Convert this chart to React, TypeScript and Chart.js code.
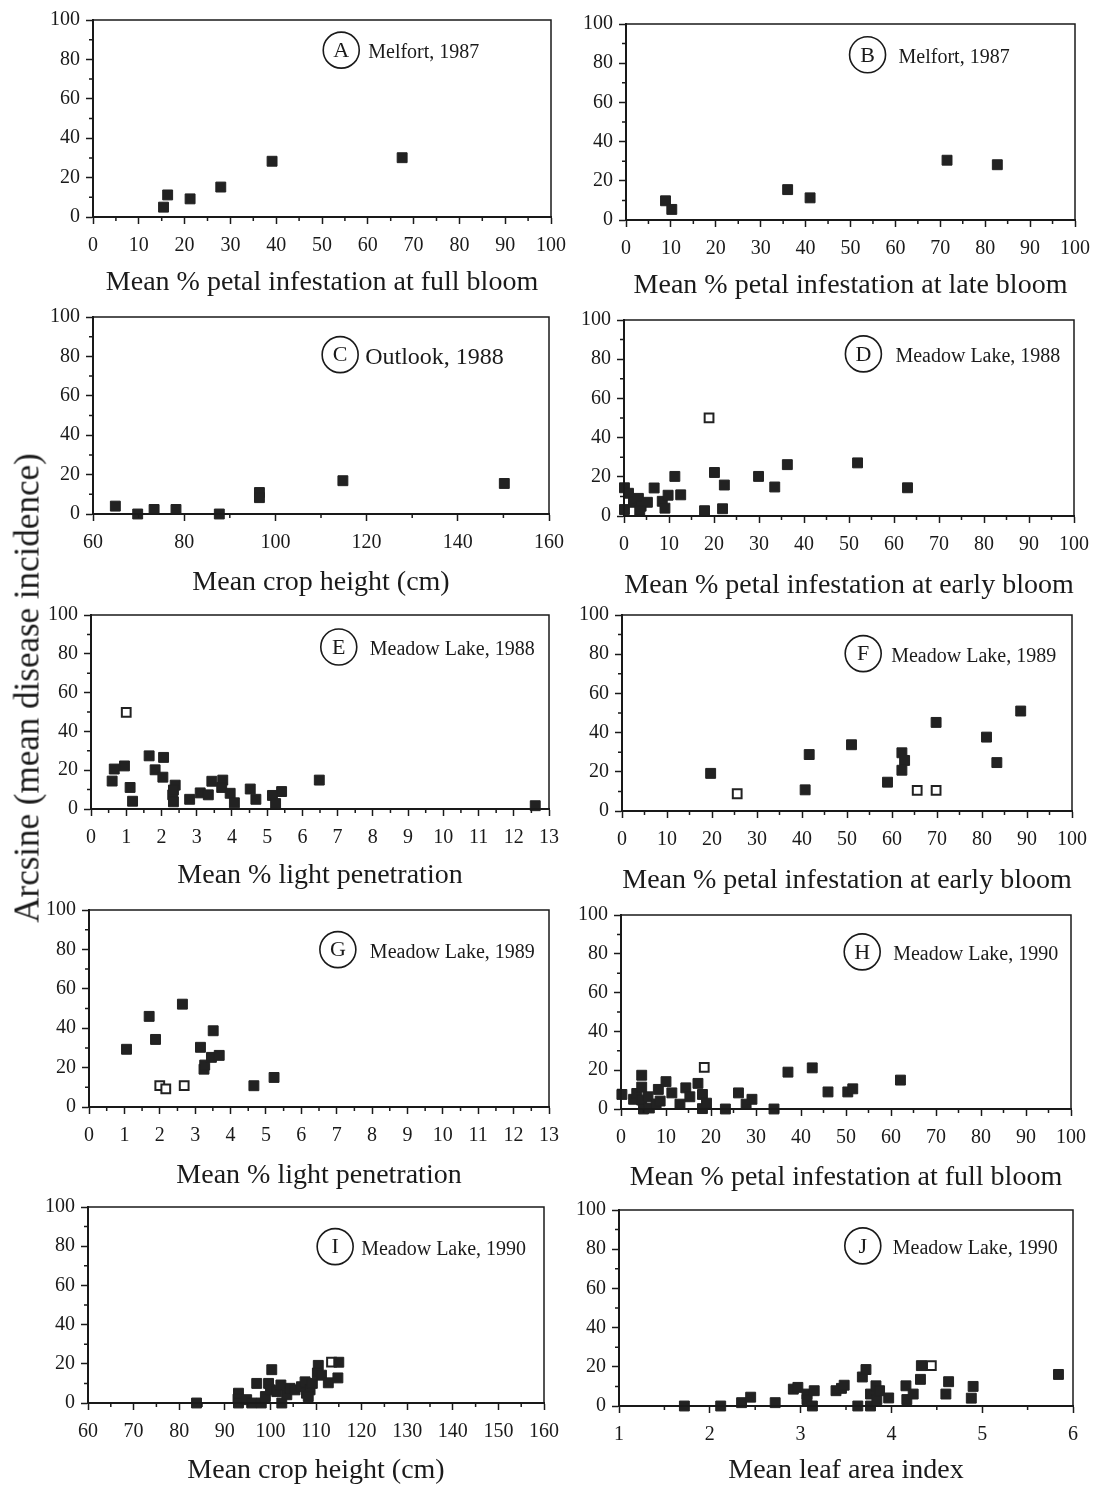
import React, { useEffect, useRef } from 'react';
import { Chart, registerables } from 'chart.js';

Chart.register(...registerables);

const INK = '#1a1a1a';
const FONT = "'Liberation Serif', 'Times New Roman', serif";

// ---------- Data (x = predictor, y = arcsine mean disease incidence) ----------
// A: Melfort 1987, petal infestation at full bloom
const A_x = [15.4, 16.3, 21.2, 27.9, 39.1, 67.5];
const A_y = [5.0, 11.2, 9.2, 15.2, 28.3, 30.1];
// B: Melfort 1987, petal infestation at late bloom
const B_x = [8.8, 10.2, 36.0, 41.0, 71.5, 82.7];
const B_y = [9.8, 5.4, 15.5, 11.3, 30.5, 28.2];
// C: Outlook 1988, crop height
const C_x = [64.9, 69.8, 73.4, 78.2, 87.7, 96.5, 96.5, 114.8, 150.2];
const C_y = [4.0, 0.0, 2.3, 2.3, 0.0, 10.9, 8.3, 16.9, 15.5];
// D: Meadow Lake 1988, petal infestation at early bloom
const D_x = [0.1, 1.0, 0.1, 2.1, 3.2, 3.8, 5.2, 3.5, 6.7, 8.5, 9.1, 9.8, 11.3, 12.6, 17.9, 20.1, 21.9, 22.3, 29.9, 33.5, 36.3, 51.9, 63.0];
const D_y = [14.4, 11.6, 3.3, 7.0, 9.0, 5.0, 7.0, 2.8, 14.3, 7.5, 4.0, 10.6, 20.2, 10.8, 2.7, 22.2, 3.7, 15.8, 20.2, 14.8, 26.2, 27.1, 14.4];
const D_openX = [18.9];
const D_openY = [50.1];
// E: Meadow Lake 1988, light penetration
const E_x = [0.6, 0.66, 0.95, 1.11, 1.18, 1.65, 1.82, 2.06, 2.04, 2.32, 2.39, 2.34, 2.34, 2.8, 3.1, 3.33, 3.43, 3.74, 3.71, 3.95, 4.07, 4.52, 4.68, 5.15, 5.24, 5.41, 6.48, 12.61];
const E_y = [14.4, 20.6, 22.2, 11.1, 4.0, 27.4, 20.2, 26.6, 16.4, 7.3, 12.3, 3.7, 9.8, 5.0, 8.3, 7.3, 14.3, 14.9, 11.1, 8.1, 3.2, 10.3, 5.0, 7.0, 2.8, 9.0, 14.9, 1.7];
const E_openX = [1.0];
const E_openY = [49.8];
// F: Meadow Lake 1989, petal infestation at early bloom
const F_x = [19.7, 40.7, 41.6, 51.0, 59.0, 62.2, 62.8, 62.2, 69.8, 81.0, 83.3, 88.6];
const F_y = [19.2, 10.8, 28.8, 33.8, 14.7, 29.7, 25.8, 20.8, 45.2, 37.7, 24.7, 51.0];
const F_openX = [25.6, 65.6, 69.8];
const F_openY = [8.8, 10.5, 10.5];
// G: Meadow Lake 1989, light penetration
const G_x = [1.06, 1.7, 1.88, 2.64, 3.15, 3.25, 3.27, 3.46, 3.68, 3.51, 4.66, 5.23];
const G_y = [29.3, 46.0, 34.3, 52.2, 30.3, 19.2, 21.3, 25.2, 26.2, 38.7, 10.8, 15.0];
const G_openX = [2.0, 2.17, 2.69];
const G_openY = [10.8, 9.2, 10.8];
// H: Meadow Lake 1990, petal infestation at full bloom
const H_x = [0.2, 2.8, 3.5, 4.6, 4.6, 4.6, 5.0, 6.0, 6.3, 7.8, 8.3, 8.7, 10.0, 11.3, 13.1, 14.4, 15.3, 17.1, 18.1, 18.1, 19.0, 23.2, 26.1, 27.8, 29.1, 34.0, 37.1, 42.5, 46.0, 50.4, 51.5, 62.1];
const H_y = [7.5, 5.0, 8.0, 17.4, 11.3, 4.6, 0.0, 6.3, 0.5, 2.6, 10.1, 4.1, 14.1, 8.3, 2.5, 10.9, 6.3, 13.2, 7.5, 0.2, 3.0, 0.0, 8.3, 2.5, 5.0, 0.0, 19.0, 21.2, 8.8, 8.8, 10.4, 14.9];
const H_openX = [18.5];
const H_openY = [21.5];
// I: Meadow Lake 1990, crop height
const I_x = [83.8, 93.0, 92.9, 93.0, 94.8, 95.9, 97.0, 98.0, 98.9, 99.6, 100.0, 100.3, 101.4, 102.5, 102.3, 103.6, 104.3, 105.4, 106.8, 107.6, 107.9, 108.7, 108.3, 109.2, 110.5, 110.3, 111.2, 112.7, 115.0, 114.8];
const I_y = [0.0, 5.0, 2.0, 0.0, 1.7, 0.0, 10.0, 0.0, 3.3, 10.0, 6.7, 17.0, 5.8, 0.0, 9.2, 4.2, 7.5, 6.7, 8.3, 10.8, 5.0, 6.7, 3.3, 10.0, 19.2, 15.3, 14.2, 10.3, 20.8, 12.8];
const I_openX = [113.4];
const I_openY = [20.8];
// J: Meadow Lake 1990, leaf area index
const J_x = [1.72, 2.12, 2.35, 2.45, 2.72, 2.92, 2.97, 3.07, 3.07, 3.13, 3.15, 3.39, 3.45, 3.48, 3.63, 3.68, 3.72, 3.77, 3.77, 3.83, 3.84, 3.87, 3.97, 4.16, 4.17, 4.24, 4.32, 4.33, 4.63, 4.6, 4.88, 4.9, 5.84];
const J_y = [0.0, 0.0, 1.7, 4.5, 1.7, 8.6, 9.5, 6.1, 3.3, 0.0, 7.8, 7.8, 9.0, 10.6, 0.0, 14.8, 18.6, 0.0, 6.1, 10.3, 3.3, 7.8, 4.1, 10.3, 3.3, 6.1, 13.6, 20.6, 12.4, 6.1, 4.0, 10.0, 16.1];
const J_openX = [4.44];
const J_openY = [20.6];

// Axis ranges: [min, max, minor step, labelled step]
const PCT_AXIS = [0, 100, 5, 10];
const HEIGHT_AXIS_C = [60, 160, 10, 20];
const HEIGHT_AXIS_I = [60, 160, 5, 10];
const LIGHT_AXIS = [0, 13, 0.5, 1];
const LAI_AXIS = [1, 6, 0.5, 1];
const Y_AXIS = [0, 100, 10, 20];

const Y_TITLE = 'Arcsine (mean disease incidence)';

// ---------- Layout (page pixels) ----------
type Panel = {
  letter: string; site: string; xTitle: string;
  xs: number[]; ys: number[]; ox: number[]; oy: number[];
  axis: number[];
  rect: number[]; titleY: number;
  fx: number; fy: number; gap: number; size: number;
};

const PANELS: Panel[] = [
  { letter: 'A', site: 'Melfort, 1987', xTitle: 'Mean % petal infestation at full bloom', xs: A_x, ys: A_y, ox: [], oy: [], axis: PCT_AXIS, rect: [93, 18, 554, 217], titleY: 282, fx: 0.542, fy: 0.153, gap: 27, size: 20 },
  { letter: 'B', site: 'Melfort, 1987', xTitle: 'Mean % petal infestation at late bloom', xs: B_x, ys: B_y, ox: [], oy: [], axis: PCT_AXIS, rect: [626, 22, 1078, 220], titleY: 285, fx: 0.538, fy: 0.157, gap: 31, size: 20 },
  { letter: 'C', site: 'Outlook, 1988', xTitle: 'Mean crop height (cm)', xs: C_x, ys: C_y, ox: [], oy: [], axis: HEIGHT_AXIS_C, rect: [93, 315, 552, 514], titleY: 582, fx: 0.542, fy: 0.191, gap: 25, size: 24 },
  { letter: 'D', site: 'Meadow Lake, 1988', xTitle: 'Mean % petal infestation at early bloom', xs: D_x, ys: D_y, ox: D_openX, oy: D_openY, axis: PCT_AXIS, rect: [624, 318, 1077, 516], titleY: 585, fx: 0.532, fy: 0.173, gap: 32, size: 20 },
  { letter: 'E', site: 'Meadow Lake, 1988', xTitle: 'Mean % light penetration', xs: E_x, ys: E_y, ox: E_openX, oy: E_openY, axis: LIGHT_AXIS, rect: [91, 613, 549, 809], titleY: 875, fx: 0.541, fy: 0.165, gap: 31, size: 20 },
  { letter: 'F', site: 'Meadow Lake, 1989', xTitle: 'Mean % petal infestation at early bloom', xs: F_x, ys: F_y, ox: F_openX, oy: F_openY, axis: PCT_AXIS, rect: [622, 613, 1075, 811], titleY: 880, fx: 0.536, fy: 0.197, gap: 28, size: 20 },
  { letter: 'G', site: 'Meadow Lake, 1989', xTitle: 'Mean % light penetration', xs: G_x, ys: G_y, ox: G_openX, oy: G_openY, axis: LIGHT_AXIS, rect: [89, 908, 549, 1107], titleY: 1175, fx: 0.541, fy: 0.201, gap: 32, size: 20 },
  { letter: 'H', site: 'Meadow Lake, 1990', xTitle: 'Mean % petal infestation at full bloom', xs: H_x, ys: H_y, ox: H_openX, oy: H_openY, axis: PCT_AXIS, rect: [621, 913, 1074, 1109], titleY: 1177, fx: 0.536, fy: 0.19, gap: 31, size: 20 },
  { letter: 'I', site: 'Meadow Lake, 1990', xTitle: 'Mean crop height (cm)', xs: I_x, ys: I_y, ox: I_openX, oy: I_openY, axis: HEIGHT_AXIS_I, rect: [88, 1205, 547, 1403], titleY: 1470, fx: 0.542, fy: 0.202, gap: 26, size: 20 },
  { letter: 'J', site: 'Meadow Lake, 1990', xTitle: 'Mean leaf area index', xs: J_x, ys: J_y, ox: J_openX, oy: J_openY, axis: LAI_AXIS, rect: [619, 1208, 1073, 1406], titleY: 1470, fx: 0.537, fy: 0.183, gap: 30, size: 20 },
];

const YW = 60; // y-axis box width
const PT = 16; // top padding
const PR = 22; // right padding
const TITLE_SIZE = 28;
const TICK_SIZE = 20;

const isMajor = (v: number, step: number) => Math.abs(v / step - Math.round(v / step)) < 1e-6;

const decorPlugin = {
  id: 'decor',
  afterDraw(chart: any, _args: any, opts: any) {
    const { ctx, chartArea: ca } = chart;
    ctx.save();
    ctx.strokeStyle = INK;
    ctx.fillStyle = INK;
    // frame
    ctx.lineWidth = 1.5;
    ctx.strokeRect(ca.left, ca.top, ca.right - ca.left, ca.bottom - ca.top);
    // minor ticks
    const xs = chart.scales.x;
    const ys = chart.scales.y;
    ctx.beginPath();
    xs.ticks.forEach((t: any) => {
      if (t.label === '') {
        const px = xs.getPixelForValue(t.value);
        ctx.moveTo(px, ca.bottom);
        ctx.lineTo(px, ca.bottom + 4);
      }
    });
    ys.ticks.forEach((t: any) => {
      if (t.label === '') {
        const py = ys.getPixelForValue(t.value);
        ctx.moveTo(ca.left, py);
        ctx.lineTo(ca.left - 4, py);
      }
    });
    ctx.stroke();
    // panel label
    const cx = ca.left + opts.fx * (ca.right - ca.left);
    const cy = ca.top + opts.fy * (ca.bottom - ca.top);
    ctx.lineWidth = 1.6;
    ctx.beginPath();
    ctx.arc(cx, cy, 18, 0, Math.PI * 2);
    ctx.stroke();
    ctx.font = `22px ${FONT}`;
    ctx.textAlign = 'center';
    ctx.textBaseline = 'middle';
    ctx.fillText(opts.letter, cx, cy + 1);
    ctx.font = `${opts.size}px ${FONT}`;
    ctx.textAlign = 'left';
    ctx.fillText(opts.site, cx + opts.gap, cy + 3);
    ctx.restore();
  },
};

function PanelChart({ p }: { p: Panel }) {
  const ref = useRef<HTMLCanvasElement>(null);
  const [l, t, r, b] = p.rect;
  const XH = p.titleY - b + Math.round((TITLE_SIZE * 1.2) / 2);
  const W = r - l + YW + PR;
  const H = b - t + PT + XH;

  useEffect(() => {
    const [xmin, xmax, xminor, xmajor] = p.axis;
    const [ymin, ymax, yminor, ymajor] = Y_AXIS;
    const filled = p.xs.map((x, i) => ({ x, y: p.ys[i] }));
    const open = p.ox.map((x, i) => ({ x, y: p.oy[i] }));
    const tickColor = (c: any) => (c.tick && c.tick.label === '' ? 'rgba(0,0,0,0)' : INK);
    const chart = new Chart(ref.current as HTMLCanvasElement, {
      type: 'scatter',
      data: {
        datasets: [
          {
            data: filled,
            pointStyle: 'rect',
            pointRadius: 7,
            backgroundColor: '#222',
            borderColor: '#222',
            borderWidth: 1,
            clip: false,
          },
          {
            data: open,
            pointStyle: 'rect',
            pointRadius: 6.2,
            backgroundColor: '#ffffff',
            borderColor: '#222',
            borderWidth: 2,
            clip: false,
          },
        ],
      } as any,
      plugins: [decorPlugin],
      options: {
        animation: false,
        responsive: false,
        devicePixelRatio: 1,
        layout: { padding: { left: 0, top: PT, right: PR, bottom: 0 } },
        plugins: {
          legend: { display: false },
          tooltip: { enabled: false },
          decor: { letter: p.letter, site: p.site, fx: p.fx, fy: p.fy, gap: p.gap, size: p.size },
        } as any,
        scales: {
          x: {
            type: 'linear',
            min: xmin,
            max: xmax,
            afterFit: (s: any) => { s.height = XH; },
            border: { display: true, color: INK, width: 2 },
            grid: { drawOnChartArea: false, drawTicks: true, tickLength: 7, tickWidth: 1.5, tickColor },
            ticks: {
              stepSize: xminor,
              autoSkip: false,
              maxRotation: 0,
              padding: 10,
              color: INK,
              font: { family: FONT, size: TICK_SIZE },
              callback: (v: any) => (isMajor(Number(v), xmajor) ? String(Math.round(Number(v) * 100) / 100) : ''),
            },
            title: {
              display: true,
              text: p.xTitle,
              color: INK,
              font: { family: FONT, size: TITLE_SIZE },
              padding: 0,
            },
          },
          y: {
            type: 'linear',
            min: ymin,
            max: ymax,
            afterFit: (s: any) => { s.width = YW; },
            border: { display: true, color: INK, width: 2 },
            grid: { drawOnChartArea: false, drawTicks: true, tickLength: 7, tickWidth: 1.5, tickColor },
            ticks: {
              stepSize: yminor,
              autoSkip: false,
              padding: 6,
              color: INK,
              font: { family: FONT, size: TICK_SIZE },
              callback: (v: any) => (isMajor(Number(v), ymajor) ? String(v) : ''),
            },
          },
        },
      } as any,
    });
    return () => chart.destroy();
  }, []);

  return (
    <canvas
      ref={ref}
      width={W}
      height={H}
      style={{ position: 'absolute', left: l - YW, top: t - PT, width: W, height: H }}
    />
  );
}

export default function App() {
  return (
    <div
      style={{
        position: 'fixed',
        left: 0,
        top: 0,
        width: 1101,
        height: 1485,
        overflow: 'hidden',
        background: '#ffffff',
      }}
    >
      {PANELS.map((p) => (
        <PanelChart key={p.letter} p={p} />
      ))}
      <div
        style={{
          position: 'absolute',
          left: 27,
          top: 688,
          transform: 'translate(-50%, -50%) rotate(-90deg)',
          whiteSpace: 'nowrap',
          fontFamily: FONT,
          fontSize: 35,
          color: INK,
          lineHeight: 1,
        }}
      >
        {Y_TITLE}
      </div>
    </div>
  );
}
